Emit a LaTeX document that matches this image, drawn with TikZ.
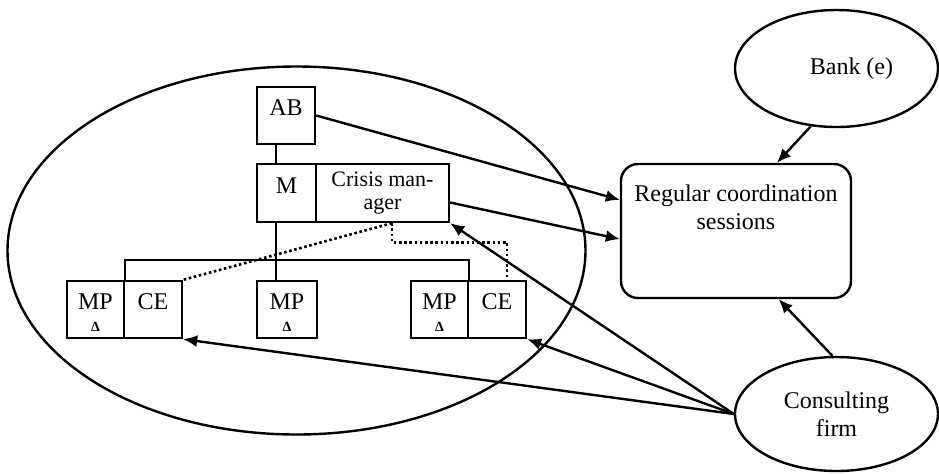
\documentclass[tikz,border=0pt]{standalone}
\usepackage{fontspec}
\setmainfont{Liberation Serif}
\usetikzlibrary{shapes.geometric,arrows.meta}
\tikzset{
  box/.style={draw, line width=1.2pt, inner sep=0pt, minimum height=28.5pt},
  unitbox/.style={box, text height=8pt, text depth=8pt},
  party/.style={draw, ellipse, line width=1.2pt, inner sep=0pt},
  delta/.style={font=\fontsize{7}{7}\selectfont\bfseries, inner sep=0pt},
  link/.style={line width=1.2pt},
  report/.style={line width=1.3pt, dash pattern=on 1.3pt off 1.3pt},
  flow/.style={line width=1.2pt, -{Latex[length=7pt,width=6pt]}}
}
\begin{document}
\begin{tikzpicture}[x=0.5pt, y=-0.5pt, font=\fontsize{12}{14}\selectfont]
    \useasboundingbox (0,0) rectangle (939,473);
    % Company
    \node[party, minimum width=289pt, minimum height=184pt] (company) at (296.5,250.5) {};
    \node[unitbox, minimum width=29pt] (AB) at (286,115.5) {AB};
    \node[unitbox, minimum width=29.5pt, minimum height=29pt] (M) at (286.5,193) {M};
    \node[box, minimum width=66.5pt, minimum height=29pt, align=center,
          font=\fontsize{11}{11.5}\selectfont] (CM) at (382.5,193) {Crisis man-\\ager};
    \foreach \name/\x/\w in {MPa/95.5/28.5, MPb/287/30, MPc/439.5/28.5} {
        \node[unitbox, minimum width=\w pt] (\name) at (\x,309.5) {MP};
        \node[delta] (d\name) at (\x,327) {Δ};
    }
    \node[unitbox, minimum width=29pt] (CEa) at (153,309.5) {CE};
    \node[unitbox, minimum width=29pt] (CEb) at (497,309.5) {CE};

    % Hierarchy
    \coordinate (trunk) at ([xshift=10pt]M.north west);
    \draw[link] (trunk |- AB.south) -- (trunk);
    \draw[link] (trunk |- M.south) -- (trunk |- MPb.north);
    \draw[link] (MPa.north east) -- ++(0,-20) -| (MPc.north east);
    \coordinate (cmfoot) at ([xshift=4.75pt]CM.south);
    \draw[report] (cmfoot) -- (CEa.north east);
    \draw[report] (cmfoot) -- ++(0,19) -| ([xshift=5pt]CEb.north);

    % Outside parties
    \node[draw, rounded corners=8.5pt, line width=1.2pt, minimum width=115pt, minimum height=67pt] (sess) at (736,231) {};
    \node[align=center, inner sep=0pt] (sesslabel) at (736,207) {Regular coordination\\sessions};
    \node[party, minimum width=101.5pt, minimum height=58.5pt] (bank) at (836.5,68.5) {\hspace*{15pt}Bank (e)};
    \node[party, align=center, minimum width=101.5pt, minimum height=57pt] (consult) at (836.5,414) {Consulting\\firm};

    \draw[flow] (AB.east) -- (sess.165.8);
    \draw[flow] (CM.-8.5) -- (sess.184.5);
    \draw[flow] (bank.246.6) -- (sess.59.8);
    \draw[flow] (consult.94.5) -- (sess.302.1);
    \foreach \t in {CEa.south east, CEb.south east, CM.south east}
        \draw[flow] (consult.west) -- (\t);
\end{tikzpicture}
\end{document}
